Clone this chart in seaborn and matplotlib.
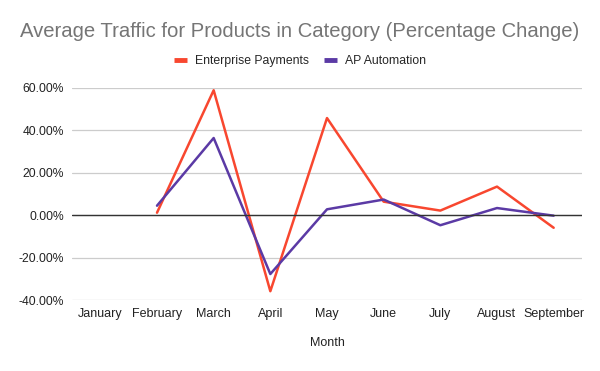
import numpy as np
import pandas as pd
import matplotlib
matplotlib.use("Agg")
import matplotlib.pyplot as plt
import seaborn as sns

# Data (percentage change, January has no value)
months = ["January", "February", "March", "April", "May", "June", "July", "August", "September"]
enterprise_payments = [np.nan, 1.2, 58.9, -35.8, 45.8, 6.4, 2.2, 13.5, -5.9]
ap_automation = [np.nan, 4.5, 36.4, -27.7, 2.8, 7.4, -4.7, 3.4, -0.2]
y_ticks = [-40, -20, 0, 20, 40, 60]

df = pd.DataFrame({
    "pos": list(range(len(months))) * 2,
    "value": enterprise_payments + ap_automation,
    "series": ["Enterprise Payments"] * len(months) + ["AP Automation"] * len(months),
})

sns.set_style("white")
plt.rcParams["font.family"] = ["Liberation Sans", "DejaVu Sans"]

fig, ax = plt.subplots(figsize=(6, 3.71), dpi=100)
fig.subplots_adjust(left=0.12, right=0.97, top=0.763, bottom=0.191)

palette = {"Enterprise Payments": "#f8472f", "AP Automation": "#5b3aa5"}
sns.lineplot(data=df, x="pos", y="value", hue="series", palette=palette,
             linewidth=1.8, ax=ax, legend=False)

ax.set_xlim(-0.5, 8.5)
ax.set_ylim(-40, 60)
ax.set_yticks(y_ticks)
ax.set_yticklabels([f"{v:.2f}%" for v in y_ticks])
ax.set_xticks(range(len(months)))
ax.set_xticklabels(months)
ax.tick_params(axis="both", length=0, colors="#222222")
ax.tick_params(axis="y", labelsize=8.7, pad=6)
ax.tick_params(axis="x", labelsize=9, pad=6)
ax.grid(axis="y", color="#cccccc", linewidth=0.9)
ax.axhline(0, color="#333333", linewidth=1.0)
for s in ax.spines.values():
    s.set_visible(False)

ax.set_xlabel("Month", fontsize=9, color="#222222", labelpad=12)
ax.set_ylabel("")

fig.suptitle("Average Traffic for Products in Category (Percentage Change)",
             fontsize=14.6, color="#757575", y=0.914, va="center")

handles = [plt.Line2D([], [], color=palette[k], linewidth=3.5, solid_capstyle="butt")
           for k in palette]
fig.legend(handles, list(palette.keys()), loc="center", bbox_to_anchor=(0.5, 0.835),
           ncol=2, frameon=False, fontsize=8.8, handlelength=1.0, handletextpad=0.65,
           columnspacing=1.3)

fig.savefig("out.png", dpi=100)
